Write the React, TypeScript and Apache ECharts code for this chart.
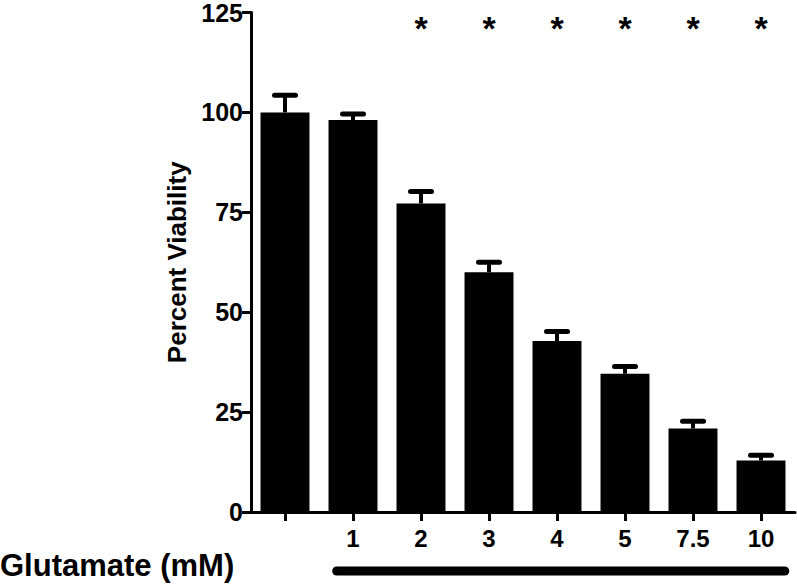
import React, { useEffect, useRef } from "react";
import * as echarts from "echarts";

const categories = ["", "1", "2", "3", "4", "5", "7.5", "10"];
const viability = [100, 98.1, 77.2, 60, 42.8, 34.6, 20.9, 12.9];
const errorTop = [104.3, 99.6, 80.2, 62.5, 45.2, 36.4, 22.7, 14.2];
const significant = [false, false, true, true, true, true, true, true];
const yTicks = [0, 25, 50, 75, 100, 125];
const treatedRange = [1, 7];
const FONT = "'Liberation Sans', Arial, Helvetica, sans-serif";

export default function App() {
  const ref = useRef<HTMLDivElement>(null);
  useEffect(() => {
    if (!ref.current) return;
    const chart = echarts.init(ref.current, null, { renderer: "svg" });
    const errData = viability.map((v, i) => [i, v, errorTop[i]]);
    const starData = significant
      .map((s, i) => (s ? [i, 121] : null))
      .filter((d) => d !== null);
    chart.setOption({
      animation: false,
      backgroundColor: "#fff",
      grid: { left: 251, right: 2, top: 10, bottom: 74, containLabel: false },
      xAxis: {
        type: "category",
        data: categories,
        axisLine: { lineStyle: { color: "#000", width: 3 } },
        axisTick: { show: true, alignWithLabel: true, interval: 0, length: 9, lineStyle: { color: "#000", width: 3 } },
        axisLabel: { interval: 0, color: "#000", fontFamily: FONT, fontWeight: "bold", fontSize: 24, margin: 14 },
      },
      yAxis: {
        type: "value",
        min: yTicks[0],
        max: yTicks[yTicks.length - 1],
        interval: 25,
        name: "Percent Viability",
        nameLocation: "middle",
        nameGap: 58,
        nameTextStyle: { color: "#000", fontFamily: FONT, fontWeight: "bold", fontSize: 26 },
        axisLine: { show: true, lineStyle: { color: "#000", width: 3 } },
        axisTick: { show: true, length: 9, lineStyle: { color: "#000", width: 3 } },
        axisLabel: { color: "#000", fontFamily: FONT, fontWeight: "bold", fontSize: 25, margin: 8 },
        splitLine: { show: false },
      },
      graphic: [
        {
          type: "text",
          left: 0,
          top: 550,
          style: { text: "Glutamate (mM)", fill: "#000", font: `bold 31px ${FONT}` },
        },
      ],
      series: [
        {
          type: "bar",
          data: viability,
          barWidth: "72%",
          itemStyle: { color: "#000" },
          z: 2,
        },
        {
          type: "custom",
          data: errData,
          z: 3,
          renderItem: (params: any, api: any) => {
            const i = api.value(0);
            const base = api.coord([i, api.value(1)]);
            const top = api.coord([i, api.value(2)]);
            const half = 10.5;
            return {
              type: "group",
              children: [
                { type: "line", shape: { x1: base[0], y1: base[1], x2: top[0], y2: top[1] }, style: { stroke: "#000", lineWidth: 4 } },
                { type: "line", shape: { x1: top[0] - half, y1: top[1], x2: top[0] + half, y2: top[1] }, style: { stroke: "#000", lineWidth: 5, lineCap: "round" } },
              ],
            };
          },
        },
        {
          type: "custom",
          data: starData,
          z: 3,
          renderItem: (params: any, api: any) => {
            const p = api.coord([api.value(0), api.value(1)]);
            return {
              type: "text",
              x: p[0],
              y: p[1],
              style: { text: "*", fill: "#000", font: `bold 34px ${FONT}`, align: "center", verticalAlign: "middle" },
            };
          },
        },
        {
          type: "custom",
          data: [[treatedRange[0], treatedRange[1]]],
          clip: false,
          z: 3,
          renderItem: (params: any, api: any) => {
            const a = api.coord([api.value(0), 0]);
            const b = api.coord([api.value(1), 0]);
            const band = api.size([1, 0])[0];
            return {
              type: "line",
              shape: { x1: a[0] - band * 0.24, y1: a[1] + 59, x2: b[0] + band * 0.35, y2: b[1] + 59 },
              style: { stroke: "#000", lineWidth: 9, lineCap: "round" },
            };
          },
        },
      ],
    });
    return () => chart.dispose();
  }, []);
  return <div ref={ref} style={{ width: 797, height: 586, position: "absolute", left: 0, top: 0 }} />;
}
